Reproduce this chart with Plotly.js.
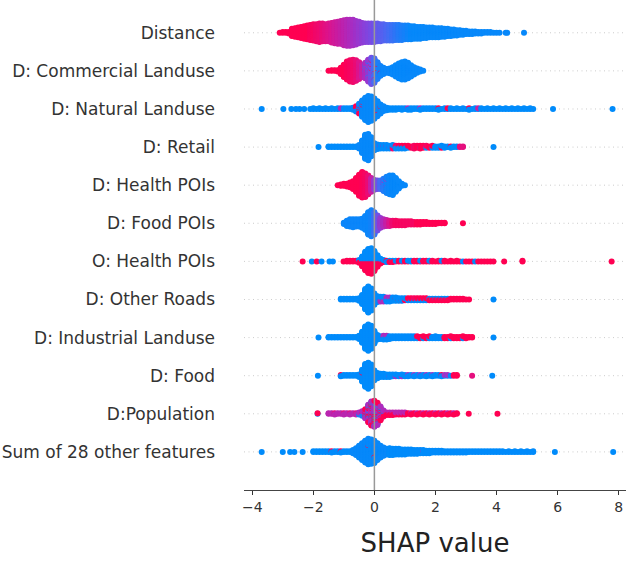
<!DOCTYPE html>
<html><head><meta charset="utf-8">
<script src="https://cdn.plot.ly/plotly-3.0.1.min.js"></script>
<style>html,body{margin:0;padding:0;background:#fff}</style>
</head><body><div id="chart" style="width:626px;height:561px"></div>
<script>
// Feature labels, top to bottom
const featureNames = ["Distance","D: Commercial Landuse","D: Natural Landuse","D: Retail","D: Health POIs","D: Food POIs","O: Health POIs","D: Other Roads","D: Industrial Landuse","D: Food","D:Population","Sum of 28 other features"];
const xTicks = [-4,-2,0,2,4,6,8];

// Per feature: SHAP value (X), number of samples at that value (N), feature value 0=low..1=high (C)
const distX = [-3.1,-3.0,-2.9,-2.8,-2.7,-2.6,-2.5,-2.4,-2.3,-2.2,
 -2.1,-2.0,-1.9,-1.8,-1.7,-1.6,-1.5,-1.4,-1.3,-1.2,
 -1.1,-1.0,-0.9,-0.8,-0.7,-0.6,-0.5,-0.4,-0.3,-0.2,
 -0.1,0.0,0.1,0.2,0.3,0.4,0.5,0.6,0.7,0.8,
 0.9,1.0,1.1,1.2,1.3,1.4,1.5,1.6,1.7,1.8,
 1.9,2.0,2.1,2.2,2.3,2.4,2.5,2.6,2.7,2.8,
 2.9,3.0,3.1,3.2,3.3,3.4,3.5,3.6,3.7,3.8,
 3.9,4.0,4.1,4.3,4.35,4.9];
const distN = [1,2,2,3,12,14,16,18,20,22,
 24,26,27,29,28,27,28,31,33,35,
 36,39,41,41,40,37,34,31,29,29,
 29,29,28,27,26,25,25,25,24,24,
 23,22,22,21,20,19,19,18,17,16,
 16,15,15,14,13,12,11,10,9,8,
 7,6,5,5,4,3,3,2,2,2,
 1,1,1,1,1,1];
const distC = [1,1,1,1,1,1,1,1,1,1,
 .97,.95,.92,.9,.87,.84,.81,.78,.75,.72,
 .69,.66,.63,.6,.57,.54,.51,.48,.45,.42,
 .39,.35,.31,.28,.25,.22,.19,.16,.13,.1,
 .08,.06,.04,.02,.02,.02,.02,.02,.02,.02,
 .02,.02,.02,.02,.02,.02,.02,.02,.02,.02,
 .02,.02,.02,.02,.02,.02,.02,.02,.02,.02,
 .02,.02,.02,.02,.02,.02];

const comX = [-1.5,-1.4,-1.3,-1.2,-1.1,-1.0,-0.9,-0.8,-0.7,-0.6,
 -0.5,-0.4,-0.3,-0.2,-0.1,0.0,0.1,0.2,0.3,0.4,
 0.5,0.6,0.7,0.8,0.9,1.0,1.1,1.2,1.3,1.4,
 1.5,1.6,
 -0.1,0.0,0.1,0.2,
 -0.3,-0.2];
const comN = [1,2,2,3,11,21,30,35,37,34,
 28,21,23,32,40,38,26,16,11,7,
 9,13,19,25,29,30,26,19,13,8,
 4,1,
 3,2,2,1,
 3,4];
const comC = [1,1,1,1,1,1,.97,.95,.92,.88,
 .8,.7,.6,.5,.35,.2,.08,.05,.03,.03,
 .03,.02,.02,.02,.02,.02,.02,.02,.02,.02,
 .02,.02,
 .95,.9,1,1,
 .1,.05];

const natX = [-3.69,-2.98,-2.72,-2.57,-2.45,-2.3,
 -2.1,-2.0,-1.9,-1.8,-1.7,-1.6,-1.5,-1.4,-1.3,-1.2,-1.1,-1.0,-0.9,-0.8,
 -0.7,-0.6,-0.5,-0.4,-0.3,-0.2,-0.1,0.0,0.1,0.2,0.3,0.4,
 0.5,0.6,0.7,0.8,0.9,1.0,1.1,1.2,1.3,1.4,1.5,1.6,1.7,1.8,1.9,2.0,
 2.1,2.2,2.3,2.4,2.5,2.6,2.7,2.8,2.9,3.0,3.1,3.2,3.3,3.4,3.5,3.6,
 3.7,3.8,3.9,4.0,4.1,4.2,4.3,4.4,4.5,4.6,4.7,4.8,4.9,5.0,5.1,5.2,
 5.85,7.8,
 -0.6,-0.5,-0.4,0.1,0.2,1.1,1.5,2.1,2.4,3.1,3.4,-1.1];
const natN = [1,1,1,1,1,1,
 1,2,1,2,1,2,1,2,1,2,1,2,2,2,
 4,5,11,23,35,41,38,32,22,14,8,5,
 3,3,3,2,3,2,2,3,2,2,2,2,2,2,2,2,
 2,1,2,1,2,1,2,1,2,1,2,1,2,1,2,1,
 2,1,2,1,2,1,2,1,2,1,2,1,2,1,2,1,
 1,1,
 4,5,3,2,1,1,1,1,1,1,1,1];
const natC = [0,0,0,0,0,0,
 0,0,0,0,0,0,0,0,0,0,0,0,0,0,
 .02,.02,.02,.02,.02,.02,.02,.02,.02,.02,.02,.02,
 0,0,0,0,0,0,0,0,0,0,0,0,0,0,0,0,
 0,0,0,0,0,0,0,0,0,0,0,0,0,0,0,0,
 0,0,0,0,0,0,0,0,0,0,0,0,0,0,0,0,
 0,0,
 1,1,.95,1,1,.6,.6,1,1,1,.7,.6];

const retX = [-1.83,
 -1.5,-1.4,-1.3,-1.2,-1.1,-1.0,-0.9,-0.8,-0.7,-0.6,
 -0.5,-0.4,-0.3,-0.2,-0.1,0.0,0.1,
 0.2,0.3,0.4,0.5,0.6,0.7,0.8,0.9,1.0,
 0.2,0.3,0.4,0.5,0.6,0.7,0.8,0.9,1.0,
 1.1,1.2,1.3,1.4,1.5,1.6,1.7,1.8,1.9,
 1.1,1.3,1.5,1.7,1.9,
 2.0,2.1,2.2,2.3,2.4,2.5,2.6,2.7,
 2.2,2.5,
 2.8,2.9,
 3.9];
const retN = [1,
 2,2,2,2,2,2,2,2,2,2,
 6,20,38,41,30,12,8,
 5,5,5,4,4,3,3,3,3,
 1,1,1,1,2,2,2,2,2,
 3,3,4,4,4,4,3,3,3,
 1,1,1,1,1,
 3,3,3,3,2,2,2,2,
 1,1,
 2,2,
 1];
const retC = [0,
 0,0,0,0,0,0,0,0,0,0,
 .02,.02,.02,.02,.02,.02,.02,
 0,0,0,0,0,0,0,0,0,
 .6,.6,.7,.7,.9,.9,1,1,1,
 1,1,.95,1,1,1,.95,1,1,
 0,0,0,0,0,
 0,0,0,0,0,0,0,0,
 1,1,
 .85,.85,
 0];

const hpX = [-1.2,-1.1,-1.0,-0.9,-0.8,-0.7,-0.6,-0.5,-0.4,-0.3,
 -0.2,-0.1,0.0,0.1,0.2,0.3,0.4,0.5,0.6,0.7,
 0.8,0.9,1.0,
 0.3,0.4];
const hpN = [1,3,4,5,8,13,22,33,40,37,
 30,22,16,14,14,18,24,30,31,22,
 12,4,1,
 2,2];
const hpC = [1,1,1,1,1,1,1,1,.98,.95,
 .88,.7,.5,.35,.2,.1,.05,.03,.02,.02,
 .02,.02,.02,
 .55,.55];

const fpX = [-1.0,-0.9,-0.8,-0.7,-0.6,-0.5,-0.4,-0.3,-0.2,-0.1,
 0.0,0.1,0.2,0.3,0.4,0.5,0.6,0.7,0.8,0.9,
 1.0,1.1,1.2,1.3,1.4,1.5,1.6,1.7,1.8,1.9,
 2.0,2.1,2.2,2.3,
 2.9];
const fpN = [3,9,12,13,12,12,15,22,35,41,
 35,24,16,12,10,9,8,8,7,7,
 7,6,6,5,5,5,4,4,3,3,
 3,2,2,2,
 1];
const fpC = [.03,.03,.03,.03,.03,.03,.03,.03,.03,.05,
 .15,.35,.5,.6,.7,.8,.9,.95,.95,.95,
 .95,.95,.95,.95,1,1,1,1,1,1,
 1,1,1,1,
 1];

const ohX = [-2.35,-2.05,-1.89,-1.73,-1.47,-1.36,-1.01,-0.9,-0.8,-0.7,-0.6,
 -0.5,-0.4,-0.3,-0.2,-0.1,0.0,0.1,0.2,0.3,
 -0.5,-0.4,-0.3,-0.2,-0.1,0.0,0.1,0.2,0.3,
 0.4,0.5,0.6,0.7,0.8,0.9,1.0,1.1,1.3,1.4,
 1.5,1.6,1.7,1.8,1.9,2.0,2.1,2.2,2.3,2.4,
 2.5,2.6,2.7,2.8,3.0,3.1,3.2,3.4,3.5,3.6,
 3.7,3.8,3.9,
 0.4,0.5,0.6,0.7,0.9,1.1,1.2,1.5,1.8,2.2,2.9,3.3,
 4.25,4.85,7.77];
const ohN = [1,1,1,1,1,1,1,2,2,2,2,
 3,8,14,18,19,15,9,4,2,
 2,7,14,18,19,15,9,4,2,
 1,2,2,1,2,1,2,1,2,2,
 1,2,2,1,2,1,2,1,2,1,
 2,1,2,1,1,1,1,1,1,1,
 1,1,1,
 2,1,1,1,1,1,2,1,1,1,1,1,
 1,2,1];
const ohC = [1,0,1,0,0,0,1,1,1,1,1,
 1,1,1,1,1,1,1,1,1,
 0,0,0,0,0,0,0,0,0,
 1,1,1,1,1,1,1,1,1,1,
 1,1,1,1,1,1,1,1,1,1,
 1,1,1,1,1,1,1,1,1,1,
 1,1,1,
 0,0,0,0,0,0,0,0,0,0,0,0,
 1,1,1];

const orX = [-1.1,-1.0,-0.9,-0.8,-0.7,-0.6,
 -0.5,-0.4,-0.3,-0.2,-0.1,0.0,0.1,
 0.2,0.3,0.4,0.5,0.6,0.7,0.8,0.9,1.0,1.1,
 1.2,1.3,1.4,1.5,1.6,1.7,1.8,1.9,2.0,2.1,
 2.2,2.3,2.4,
 0.2,0.3,0.4,0.5,
 0.6,0.7,0.8,0.9,1.0,1.1,1.2,1.3,1.4,1.5,
 1.6,1.7,1.8,1.9,2.0,2.1,2.2,2.3,2.4,2.5,
 2.6,2.7,2.8,2.9,3.0,3.1,
 3.9];
const orN = [2,2,2,2,2,2,
 5,15,32,41,35,18,10,
 6,6,5,5,5,5,4,4,3,2,
 2,2,2,2,2,2,1,1,1,1,
 1,1,1,
 2,2,2,2,
 1,1,1,1,1,2,2,2,2,2,
 2,2,2,2,2,2,2,2,2,2,
 2,2,2,2,1,1,
 1];
const orC = [0,0,0,0,0,0,
 0,0,0,0,0,0,0,
 0,0,0,0,0,0,0,0,0,0,
 0,0,0,0,0,0,0,0,0,0,
 0,0,0,
 .6,.6,.6,.6,
 .95,.95,1,1,1,1,1,.95,1,1,
 1,1,1,1,1,1,1,1,1,1,
 1,1,1,1,1,1,
 0];

const inX = [-1.83,
 -1.5,-1.4,-1.3,-1.2,-1.1,-1.0,-0.9,-0.8,-0.7,-0.6,
 -0.5,-0.4,-0.3,-0.2,-0.1,0.0,0.1,
 0.2,0.3,0.4,0.5,0.6,0.7,0.8,0.9,1.0,1.1,1.2,1.3,
 0.3,0.4,
 1.4,1.5,1.6,1.7,1.8,
 1.9,2.0,2.1,2.2,
 1.4,1.6,1.8,
 2.3,2.4,2.5,2.6,2.7,2.8,2.9,3.0,3.1,3.2,
 2.0,2.5,2.9,
 3.9];
const inN = [1,
 2,2,2,2,2,2,2,2,2,2,
 6,18,35,41,36,20,8,
 5,5,5,5,4,4,4,4,4,4,4,4,
 2,2,
 3,3,3,3,3,
 3,3,3,3,
 1,1,1,
 3,3,3,3,3,3,3,3,2,2,
 1,1,1,
 1];
const inC = [0,
 0,0,0,0,0,0,0,0,0,0,
 0,0,0,0,0,0,0,
 0,0,0,0,0,0,0,0,0,0,0,0,
 .6,.6,
 1,1,1,1,1,
 0,0,0,0,
 0,0,0,
 1,1,1,1,1,1,1,1,1,1,
 0,0,0,
 0];

const fdX = [-1.85,
 -1.1,-1.0,-0.9,-0.8,-0.7,-0.6,
 -0.5,-0.4,-0.3,-0.2,-0.1,0.0,0.1,
 -1.1,-0.4,0.1,
 0.2,0.3,0.4,0.5,0.6,0.7,0.8,0.9,1.0,1.1,
 1.2,1.3,1.4,1.5,1.6,1.7,1.8,1.9,2.0,2.1,
 2.2,2.3,2.4,2.5,
 0.5,0.7,0.9,1.1,1.3,1.5,1.7,1.9,2.3,2.4,
 2.2,2.6,2.7,
 3.2,3.86];
const fdN = [1,
 2,2,2,2,2,2,
 5,18,36,41,34,16,8,
 1,1,1,
 6,6,5,4,4,3,3,3,3,2,
 2,2,2,2,2,2,2,2,2,2,
 2,1,1,1,
 1,1,1,1,1,1,1,1,1,1,
 1,2,2,
 1,1];
const fdC = [0,
 0,0,0,0,0,0,
 0,0,0,0,0,0,0,
 1,1,1,
 0,0,0,0,0,0,0,0,0,0,
 0,0,0,0,0,0,0,0,0,0,
 0,0,0,0,
 .55,.55,.55,.55,.55,.55,.55,.55,.55,.55,
 1,1,1,
 .85,0];

const popX = [-1.86,-1.86,
 -1.5,-1.4,-1.3,-1.2,-1.1,-1.0,-0.9,-0.8,-0.7,-0.6,
 -1.3,-1.0,-0.8,-0.6,
 -0.5,-0.4,-0.3,-0.2,-0.1,0.0,0.1,0.2,0.3,
 -0.5,-0.4,-0.3,-0.2,-0.1,0.0,0.1,0.2,0.3,
 -0.5,-0.4,-0.3,-0.2,-0.1,0.0,0.1,0.2,0.3,
 0.4,0.5,0.6,0.7,0.8,0.9,1.0,1.1,1.2,1.3,
 1.4,1.5,1.6,1.7,1.8,1.9,2.0,2.1,2.2,2.3,
 2.4,2.5,2.6,2.7,
 0.4,0.5,0.6,0.7,0.8,0.9,1.0,1.2,1.4,1.6,1.8,2.0,2.2,2.4,2.6,
 3.09,4.03];
const popN = [1,1,
 2,2,2,2,2,2,2,2,2,2,
 1,1,1,1,
 2,4,7,13,18,20,17,11,5,
 1,2,5,9,12,13,11,7,3,
 1,2,3,6,8,8,7,4,2,
 3,3,3,2,2,2,2,2,2,2,
 2,2,2,2,2,2,2,2,2,2,
 2,2,2,2,
 2,2,2,2,2,2,2,1,1,1,1,1,1,1,1,
 1,1];
const popC = [0,1,
 .65,.65,.65,.65,.65,.65,.65,.65,.65,.65,
 .85,.85,.85,.85,
 .6,.6,.6,.6,.6,.6,.6,.6,.6,
 1,1,1,1,1,1,1,1,1,
 .05,.05,.05,.05,.05,.05,.05,.05,.05,
 1,1,1,1,1,1,1,1,1,1,
 1,1,1,1,1,1,1,1,1,1,
 1,1,1,1,
 .65,.65,.65,.65,.65,.65,.65,.65,.65,.65,.65,.65,.65,.65,.65,
 1,1];

const sumX = [-3.69,-3.0,-2.76,-2.62,-2.35,
 -2.0,-1.9,-1.8,-1.7,-1.6,-1.5,-1.4,-1.3,-1.2,-1.1,-1.0,-0.9,-0.8,
 -1.4,-1.1,
 -0.7,-0.6,-0.5,-0.4,-0.3,-0.2,-0.1,0.0,0.1,0.2,0.3,0.4,
 0.0,-0.2,
 0.5,0.6,0.7,0.8,0.9,1.0,1.1,1.2,1.3,1.4,1.5,
 1.6,1.7,1.8,1.9,2.0,2.1,2.2,2.3,2.4,2.5,2.6,2.7,2.8,2.9,3.0,
 1.6,
 3.1,3.2,3.3,3.4,3.5,3.6,3.7,3.8,3.9,4.0,4.1,
 4.2,4.3,4.4,4.5,4.6,4.7,4.8,4.9,5.0,5.1,5.2,
 5.91,7.82];
const sumN = [1,1,1,1,1,
 2,2,2,2,2,2,2,2,2,2,2,2,2,
 1,1,
 6,12,20,28,36,41,40,36,28,20,14,10,
 1,1,
 12,11,10,10,9,9,8,8,7,7,6,
 5,5,5,4,4,4,4,3,3,3,3,3,3,3,3,
 1,
 2,2,2,2,2,2,2,2,2,2,2,
 2,1,2,1,2,1,2,1,2,1,2,
 1,1];
const sumC = [0,0,0,0,0,
 0,0,0,0,0,0,0,0,0,0,0,0,0,
 1,1,
 .02,.02,.02,.02,.02,.02,.02,.02,.02,.02,.02,.02,
 1,1,
 0,0,0,0,0,0,0,0,0,0,0,
 0,0,0,0,0,0,0,0,0,0,0,0,0,0,0,
 .6,
 0,0,0,0,0,0,0,0,0,0,0,
 0,0,0,0,0,0,0,0,0,0,0,
 0,0];

const rows = [[distX,distN,distC],[comX,comN,comC],[natX,natN,natC],[retX,retN,retC],
 [hpX,hpN,hpC],[fpX,fpN,fpC],[ohX,ohN,ohC],[orX,orN,orC],[inX,inN,inC],
 [fdX,fdN,fdC],[popX,popN,popC],[sumX,sumN,sumC]];

// Beeswarm layout (as in shap: stack samples sharing a bin around the row, scaled to row height)
const nRows = featureNames.length;
const px = [], py = [], pc = [];
rows.forEach((r, i) => {
  const yRow = nRows - 1 - i;
  const X = r[0], N = r[1], C = r[2];
  const bins = new Map();
  X.forEach((x, k) => { const key = x.toFixed(3); if (!bins.has(key)) bins.set(key, []); bins.get(key).push(k); });
  const keys = [...bins.keys()].sort((a, b) => parseFloat(a) - parseFloat(b));
  const pts = []; let maxLayer = 0;
  keys.forEach(key => {
    const items = [];
    bins.get(key).forEach((k, g) => { for (let j = 0; j < N[k]; j++) items.push({x: X[k], c: C[k], o: (j + 0.5) / N[k], g: g}); });
    items.sort((a, b) => (a.o - b.o) || (a.g - b.g));
    items.forEach((p, layer) => {
      const off = Math.ceil(layer / 2) * ((layer % 2) * 2 - 1);
      if (off > maxLayer) maxLayer = off;
      pts.push({x: p.x, off: off, c: p.c});
    });
  });
  const s = 0.9 * 0.4 / (maxLayer + 1);
  pts.forEach(p => { px.push(p.x); py.push(yRow + p.off * s); pc.push(p.c); });
});

const redBlue = [[0,'rgb(0,139,251)'],[0.2,'rgb(72,107,244)'],[0.4,'rgb(126,72,225)'],[0.5,'rgb(150,56,208)'],[0.6,'rgb(175,42,188)'],[0.8,'rgb(220,20,140)'],[1,'rgb(255,0,82)']];

const shapes = [];
for (let k = 0; k < nRows; k++) {
  shapes.push({type:'line', xref:'paper', yref:'y', x0:0, x1:1, y0:k, y1:k, layer:'below', line:{color:'#cccccc', width:1, dash:'1px,3.5px'}});
}
shapes.push({type:'line', xref:'x', yref:'paper', x0:0, x1:0, y0:0, y1:1, layer:'above', line:{color:'#999999', width:1.5}});

const trace = {type:'scatter', mode:'markers', x:px, y:py, hoverinfo:'skip',
  marker:{size:6, color:pc, colorscale:redBlue, cmin:0, cmax:1, showscale:false, line:{width:0}}};

const layout = {
  width:626, height:561, margin:{l:244, r:0, t:0, b:71},
  paper_bgcolor:'#ffffff', plot_bgcolor:'#ffffff', showlegend:false,
  font:{family:'DejaVu Sans', color:'#333333'},
  xaxis:{range:[-4.27,8.24], tickvals:xTicks, ticks:'outside', ticklen:4, tickwidth:1, tickcolor:'#333333',
    tickfont:{family:'DejaVu Sans', size:14, color:'#333333'}, showline:true, linecolor:'#444444', linewidth:1,
    showgrid:false, zeroline:false,
    title:{text:'SHAP value', font:{family:'DejaVu Sans', size:26, color:'#222222'}, standoff:20}},
  yaxis:{range:[-1,11.86], tickvals:featureNames.map((_, i) => nRows - 1 - i), ticktext:featureNames,
    ticks:'', showline:false, showgrid:false, zeroline:false, ticklabelstandoff:28,
    tickfont:{family:'DejaVu Sans', size:17, color:'#333333'}},
  shapes:shapes
};
Plotly.newPlot('chart', [trace], layout, {staticPlot:true});
</script></body></html>
